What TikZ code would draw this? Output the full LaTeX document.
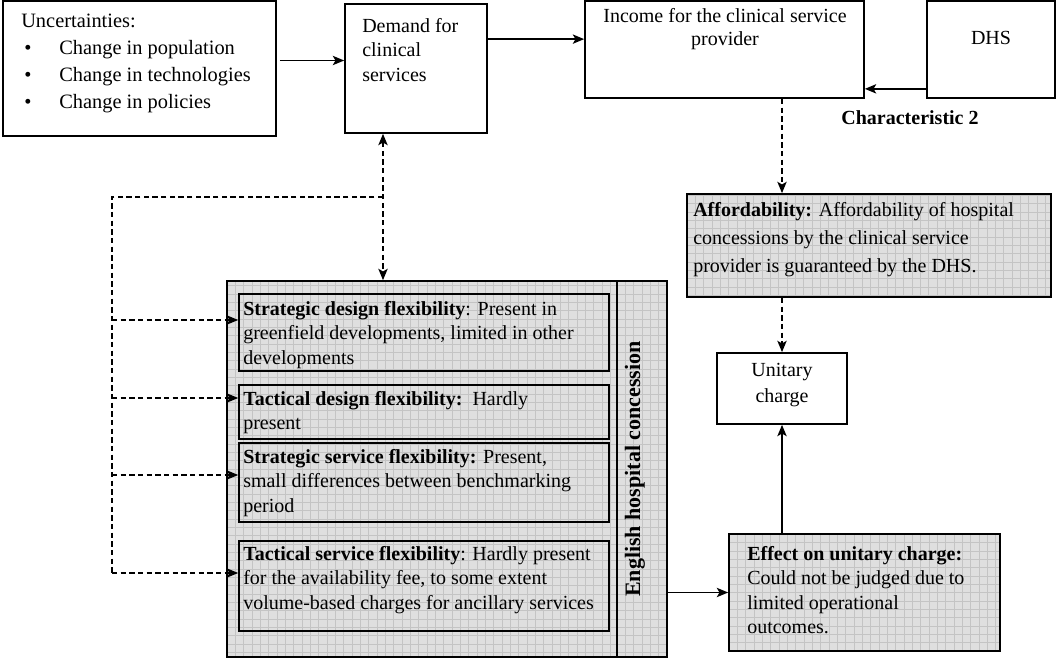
\documentclass[tikz,border=0pt]{standalone}
\usepackage{fontspec}
\setmainfont{Liberation Serif}
\usetikzlibrary{arrows.meta,fit,calc}
\definecolor{gridfill}{HTML}{DFDFDF}
\definecolor{gridline}{HTML}{C4C4C4}
% bullet item for the list of uncertainties
\newcommand\bitem{\hspace*{2.25pt}\makebox[26.25pt][l]{\textbullet}}
\begin{document}
\begin{tikzpicture}[x=0.75pt,y=-0.75pt,
  box/.style={draw,line width=1.3pt,inner sep=0pt},
  gridbox/.style={box,path picture={
      \fill[gridfill] (path picture bounding box.south west) rectangle (path picture bounding box.north east);
      \draw[gridline,line width=0.5pt,step=6.25pt] (path picture bounding box.south west) grid (path picture bounding box.north east);}},
  txt/.style={inner sep=0pt,font=\fontsize{15}{18.4}\selectfont,align=left,anchor=north west},
  ctxt/.style={txt,align=center,anchor=north},
  tip/.tip={Stealth[length=8.5pt,width=7pt,inset=2pt]},
  conn/.style={line width=1pt,-tip},
  dline/.style={line width=1pt,dash pattern=on 4pt off 2.5pt},
  dconn/.style={dline,-tip},
]
\useasboundingbox (0,0) rectangle (1057,659);

% boxes
\node[box,fit={(3,1)(276,136)}] (unc) {};
\node[box,fit={(345,4)(487,133)}] (dem) {};
\node[box,fit={(585,1)(864,98)}] (inc) {};
\node[box,fit={(927,1)(1055,98)}] (dhs) {};
\node[gridbox,fit={(687,194)(1051,297)}] (aff) {};
\node[box,fit={(717,353)(847,424)}] (unit) {};
\node[gridbox,fit={(729,534)(1000,651)}] (eff) {};
\node[gridbox,fit={(227,281)(617,657)}] (conc) {};
\node[gridbox,fit={(617,281)(667,657)}] (strip) {};
\node[box,fit={(239,294)(609,371)}] (s1) {};
\node[box,fit={(239,385)(609,439)}] (s2) {};
\node[box,fit={(239,443)(609,522)}] (s3) {};
\node[box,fit={(239,541)(609,631)}] (s4) {};

% texts
\node[txt,font=\fontsize{15.3}{20.25}\selectfont] (unctxt) at (21,14)
  {Uncertainties:\\\bitem Change in population\\\bitem Change in technologies\\\bitem Change in policies};
\node[txt] (demtxt) at (362,18) {Demand for\\clinical\\services};
\node[ctxt,font=\fontsize{15}{17.5}\selectfont] (inctxt) at (725,8) {Income for the clinical service\\provider};
\node[inner sep=0pt,font=\fontsize{15}{18}\selectfont] (dhstxt) at (991,38) {DHS};
\node[inner sep=0pt,font=\fontsize{15}{18}\selectfont\bfseries] (chartxt) at (910,118) {Characteristic 2};
\node[txt,font=\fontsize{15}{21}\selectfont] (afftxt) at (693,202)
  {\textbf{Affordability:} Affordability of hospital\\concessions by the clinical service\\provider is guaranteed by the DHS.};
\node[ctxt,font=\fontsize{15}{19.5}\selectfont] (unittxt) at (782,363) {Unitary\\charge};
\node[txt] (efftxt) at (747,546)
  {\textbf{Effect on unitary charge:}\\Could not be judged due to\\limited operational\\outcomes.};
\node[txt] (s1txt) at (243,301)
  {\textbf{Strategic design flexibility}: Present in\\greenfield developments, limited in other\\developments};
\node[txt] (s2txt) at (243,391)
  {\textbf{Tactical design flexibility:}\ \ Hardly\\present};
\node[txt] (s3txt) at (243,449)
  {\textbf{Strategic service flexibility:} Present,\\small differences between benchmarking\\period};
\node[txt] (s4txt) at (243,546)
  {\textbf{Tactical service flexibility}: Hardly present\\for the availability fee, to some extent\\volume-based charges for ancillary services};
\node[rotate=90,inner sep=0pt,font=\fontsize{16.5}{18}\selectfont\bfseries] (engtxt) at (635,469)
  {English hospital concession};

% solid connectors
\coordinate (a1) at ($(unc.east)+(3,-8)$);
\draw[conn] (a1) -- (a1 -| dem.west);
\coordinate (a2) at ($(dem.north east)+(0,36)$);
\draw[conn] (a2) -- (a2 -| inc.west);
\coordinate (a3) at ($(dhs.south west)+(0,-10)$);
\draw[conn] (a3) -- (a3 -| inc.east);
\draw[conn] (eff.north -| unit.south) -- (unit.south);
\draw[conn] (eff.west -| strip.east) -- (eff.west);

% dashed connectors
\draw[dconn] (inc.south -| unit.north) -- (aff.north -| unit.north);
\draw[dconn] (aff.south -| unit.north) -- (unit.north);
\coordinate (j) at (383,197);
\coordinate (t) at (112,197);
\coordinate (b1) at (112,320);
\coordinate (b2) at (112,398);
\coordinate (b3) at (112,475);
\coordinate (b4) at (112,573);
\draw[dline,tip-tip] (dem.south -| j) -- (conc.north -| j);
\draw[dline] (j) -- (t) -- (b4);
\foreach \i in {1,2,3,4} {
  \draw[dconn] (b\i) -- (b\i -| s\i.west);
}
\end{tikzpicture}
\end{document}
